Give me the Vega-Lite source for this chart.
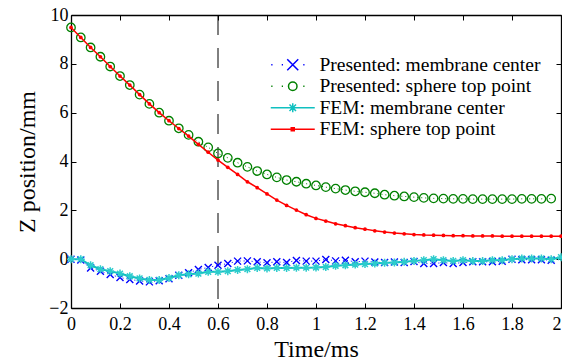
{
  "$schema": "https://vega.github.io/schema/vega-lite/v6.json",
  "width": 490,
  "height": 293,
  "autosize": {"type": "none"},
  "padding": {"left": 71, "top": 15, "right": 1, "bottom": 56},
  "background": "white",
  "config": {
    "view": {"stroke": null},
    "axis": {
      "grid": false,
      "domainColor": "black",
      "domainWidth": 1.3,
      "tickColor": "black",
      "tickWidth": 1,
      "tickSize": -5,
      "labelFont": "Liberation Serif, Times New Roman, serif",
      "labelFontSize": 18,
      "labelColor": "black",
      "labelFlush": false,
      "titleFont": "Liberation Serif, Times New Roman, serif",
      "titleFontSize": 24,
      "titleFontWeight": "normal",
      "titleColor": "black"
    },
    "legend": {
      "labelFont": "Liberation Serif, Times New Roman, serif",
      "labelFontSize": 19.5,
      "labelColor": "black",
      "labelLimit": 400,
      "symbolSize": 100,
      "symbolStrokeWidth": 1.5,
      "symbolOffset": 0,
      "labelOffset": 17,
      "padding": 0,
      "rowPadding": 0.5
    }
  },
  "datasets": {
    "marker": [{"t": 0.6}],
    "ps": [
      {"t":0,"z":9.49},{"t":0.04,"z":9.08},{"t":0.08,"z":8.67},{"t":0.12,"z":8.29},{"t":0.16,"z":7.89},{"t":0.2,"z":7.5},{"t":0.24,"z":7.13},{"t":0.28,"z":6.74},{"t":0.32,"z":6.36},{"t":0.36,"z":6.0},{"t":0.4,"z":5.67},{"t":0.44,"z":5.36},{"t":0.48,"z":5.09},{"t":0.52,"z":4.81},{"t":0.56,"z":4.58},{"t":0.6,"z":4.33},{"t":0.64,"z":4.15},{"t":0.68,"z":3.95},{"t":0.72,"z":3.78},{"t":0.76,"z":3.61},{"t":0.8,"z":3.47},{"t":0.84,"z":3.35},{"t":0.88,"z":3.24},{"t":0.92,"z":3.17},{"t":0.96,"z":3.09},{"t":1.0,"z":3.02},{"t":1.04,"z":2.95},{"t":1.08,"z":2.89},{"t":1.12,"z":2.83},{"t":1.16,"z":2.78},{"t":1.2,"z":2.74},{"t":1.24,"z":2.7},{"t":1.28,"z":2.64},{"t":1.32,"z":2.6},{"t":1.36,"z":2.57},{"t":1.4,"z":2.54},{"t":1.44,"z":2.51},{"t":1.48,"z":2.49},{"t":1.52,"z":2.48},{"t":1.56,"z":2.47},{"t":1.6,"z":2.47},{"t":1.64,"z":2.46},{"t":1.68,"z":2.46},{"t":1.72,"z":2.46},{"t":1.76,"z":2.46},{"t":1.8,"z":2.46},{"t":1.84,"z":2.47},{"t":1.88,"z":2.47},{"t":1.92,"z":2.47},{"t":1.96,"z":2.48}
    ],
    "fs": [
      {"t":0,"z":9.49},{"t":0.04,"z":9.08},{"t":0.08,"z":8.67},{"t":0.12,"z":8.29},{"t":0.16,"z":7.89},{"t":0.2,"z":7.5},{"t":0.24,"z":7.13},{"t":0.28,"z":6.74},{"t":0.32,"z":6.36},{"t":0.36,"z":6.0},{"t":0.4,"z":5.67},{"t":0.44,"z":5.35},{"t":0.48,"z":5.04},{"t":0.52,"z":4.7},{"t":0.56,"z":4.38},{"t":0.6,"z":4.06},{"t":0.64,"z":3.76},{"t":0.68,"z":3.47},{"t":0.72,"z":3.17},{"t":0.76,"z":2.93},{"t":0.8,"z":2.67},{"t":0.84,"z":2.42},{"t":0.88,"z":2.2},{"t":0.92,"z":2.01},{"t":0.96,"z":1.82},{"t":1.0,"z":1.67},{"t":1.04,"z":1.56},{"t":1.08,"z":1.45},{"t":1.12,"z":1.37},{"t":1.16,"z":1.29},{"t":1.2,"z":1.23},{"t":1.24,"z":1.16},{"t":1.28,"z":1.11},{"t":1.32,"z":1.07},{"t":1.36,"z":1.04},{"t":1.4,"z":1.01},{"t":1.44,"z":0.99},{"t":1.48,"z":0.98},{"t":1.52,"z":0.97},{"t":1.56,"z":0.96},{"t":1.6,"z":0.96},{"t":1.64,"z":0.95},{"t":1.68,"z":0.95},{"t":1.72,"z":0.95},{"t":1.76,"z":0.94},{"t":1.8,"z":0.94},{"t":1.84,"z":0.94},{"t":1.88,"z":0.94},{"t":1.92,"z":0.94},{"t":1.96,"z":0.94},{"t":2.0,"z":0.94}
    ],
    "pm": [
      {"t":0,"z":0.0},{"t":0.04,"z":-0.03},{"t":0.08,"z":-0.36},{"t":0.12,"z":-0.49},{"t":0.16,"z":-0.63},{"t":0.2,"z":-0.75},{"t":0.24,"z":-0.83},{"t":0.28,"z":-0.89},{"t":0.32,"z":-0.93},{"t":0.36,"z":-0.88},{"t":0.4,"z":-0.8},{"t":0.44,"z":-0.66},{"t":0.48,"z":-0.56},{"t":0.52,"z":-0.42},{"t":0.56,"z":-0.34},{"t":0.6,"z":-0.25},{"t":0.64,"z":-0.18},{"t":0.68,"z":-0.08},{"t":0.72,"z":-0.07},{"t":0.76,"z":-0.11},{"t":0.8,"z":-0.15},{"t":0.84,"z":-0.11},{"t":0.88,"z":-0.14},{"t":0.92,"z":-0.05},{"t":0.96,"z":-0.08},{"t":1.0,"z":-0.08},{"t":1.04,"z":-0.01},{"t":1.08,"z":-0.07},{"t":1.12,"z":-0.04},{"t":1.16,"z":-0.11},{"t":1.2,"z":-0.08},{"t":1.24,"z":-0.12},{"t":1.28,"z":-0.14},{"t":1.32,"z":-0.12},{"t":1.36,"z":-0.14},{"t":1.4,"z":-0.1},{"t":1.44,"z":-0.18},{"t":1.48,"z":-0.18},{"t":1.52,"z":-0.14},{"t":1.56,"z":-0.18},{"t":1.6,"z":-0.14},{"t":1.64,"z":-0.11},{"t":1.68,"z":-0.11},{"t":1.72,"z":-0.11},{"t":1.76,"z":-0.09},{"t":1.8,"z":0.0},{"t":1.84,"z":-0.02},{"t":1.88,"z":-0.02},{"t":1.92,"z":-0.02},{"t":1.96,"z":-0.04}
    ],
    "fm": [
      {"t":0,"z":0.0},{"t":0.04,"z":0.0},{"t":0.08,"z":-0.25},{"t":0.12,"z":-0.41},{"t":0.16,"z":-0.49},{"t":0.2,"z":-0.59},{"t":0.24,"z":-0.7},{"t":0.28,"z":-0.79},{"t":0.32,"z":-0.85},{"t":0.36,"z":-0.85},{"t":0.4,"z":-0.77},{"t":0.44,"z":-0.66},{"t":0.48,"z":-0.62},{"t":0.52,"z":-0.59},{"t":0.56,"z":-0.52},{"t":0.6,"z":-0.52},{"t":0.64,"z":-0.49},{"t":0.68,"z":-0.44},{"t":0.72,"z":-0.41},{"t":0.76,"z":-0.36},{"t":0.8,"z":-0.38},{"t":0.84,"z":-0.36},{"t":0.88,"z":-0.36},{"t":0.92,"z":-0.35},{"t":0.96,"z":-0.35},{"t":1.0,"z":-0.34},{"t":1.04,"z":-0.32},{"t":1.08,"z":-0.27},{"t":1.12,"z":-0.25},{"t":1.16,"z":-0.22},{"t":1.2,"z":-0.2},{"t":1.24,"z":-0.18},{"t":1.28,"z":-0.15},{"t":1.32,"z":-0.14},{"t":1.36,"z":-0.11},{"t":1.4,"z":-0.07},{"t":1.44,"z":-0.04},{"t":1.48,"z":0.0},{"t":1.52,"z":-0.04},{"t":1.56,"z":-0.07},{"t":1.6,"z":-0.04},{"t":1.64,"z":-0.08},{"t":1.68,"z":-0.08},{"t":1.72,"z":-0.04},{"t":1.76,"z":-0.04},{"t":1.8,"z":0.0},{"t":1.84,"z":0.03},{"t":1.88,"z":0.03},{"t":1.92,"z":0.03},{"t":1.96,"z":0.0},{"t":2.0,"z":0.08}
    ],
    "leg": [
      {"t": -1, "z": 0, "series": "Presented: membrane center"},
      {"t": -1, "z": 0, "series": "Presented: sphere top point"},
      {"t": -1, "z": 0, "series": "FEM: membrane center"},
      {"t": -1, "z": 0, "series": "FEM: sphere top point"}
    ]
  },
  "resolve": {"axis": {"x": "independent", "y": "independent"}},
  "layer": [
    {
      "data": {"name": "marker"},
      "mark": {"type": "rule", "color": "black", "strokeWidth": 1, "strokeDash": [20, 13]},
      "encoding": {
        "x": {"field": "t", "type": "quantitative", "scale": {"domain": [0, 2], "nice": false, "zero": false},
          "axis": {"orient": "bottom", "values": [0,0.2,0.4,0.6,0.8,1,1.2,1.4,1.6,1.8,2], "format": "~g", "title": "Time/ms", "labelPadding": 12, "titlePadding": 4,
            "labelAlign": {"condition": {"test": "datum.value >= 2", "value": "right"}, "value": "center"}}}
      }
    },
    {
      "data": {"name": "marker"},
      "mark": {"type": "rule", "opacity": 0},
      "encoding": {
        "x": {"field": "t", "type": "quantitative",
          "axis": {"orient": "top", "values": [0,0.2,0.4,0.6,0.8,1,1.2,1.4,1.6,1.8,2], "labels": false, "title": null}},
        "y": {"datum": 0, "type": "quantitative", "scale": {"domain": [-2, 10], "nice": false, "zero": false},
          "axis": {"orient": "left", "values": [-2,0,2,4,6,8,10], "format": "d", "title": "Z position/mm", "labelPadding": 8, "titlePadding": 9}}
      }
    },
    {
      "data": {"name": "marker"},
      "mark": {"type": "rule", "opacity": 0},
      "encoding": {
        "x": {"field": "t", "type": "quantitative", "axis": null},
        "y": {"datum": 0, "type": "quantitative",
          "axis": {"orient": "right", "values": [-2,0,2,4,6,8,10], "labels": false, "title": null}}
      }
    },
    {
      "data": {"name": "ps"},
      "mark": {"type": "line", "color": "#008000", "strokeWidth": 1, "strokeDash": [1, 3]},
      "encoding": {"x": {"field": "t", "type": "quantitative", "axis": null}, "y": {"field": "z", "type": "quantitative", "axis": null}}
    },
    {
      "data": {"name": "ps"},
      "mark": {"type": "point", "shape": "circle", "filled": false, "color": "#008000", "size": 72, "strokeWidth": 1.3, "opacity": 1},
      "encoding": {"x": {"field": "t", "type": "quantitative", "axis": null}, "y": {"field": "z", "type": "quantitative", "axis": null}}
    },
    {
      "data": {"name": "pm"},
      "mark": {"type": "line", "color": "#0000FF", "strokeWidth": 1, "strokeDash": [1, 3]},
      "encoding": {"x": {"field": "t", "type": "quantitative", "axis": null}, "y": {"field": "z", "type": "quantitative", "axis": null}}
    },
    {
      "data": {"name": "pm"},
      "mark": {"type": "point", "shape": "M-1,-1L1,1M-1,1L1,-1", "filled": false, "color": "#0000FF", "size": 49, "strokeWidth": 1.4, "opacity": 1},
      "encoding": {"x": {"field": "t", "type": "quantitative", "axis": null}, "y": {"field": "z", "type": "quantitative", "axis": null}}
    },
    {
      "data": {"name": "fm"},
      "mark": {"type": "line", "color": "#10C0C0", "strokeWidth": 2},
      "encoding": {"x": {"field": "t", "type": "quantitative", "axis": null}, "y": {"field": "z", "type": "quantitative", "axis": null}}
    },
    {
      "data": {"name": "fm"},
      "mark": {"type": "point", "shape": "M-1,0H1M0,-1V1M-0.72,-0.72L0.72,0.72M-0.72,0.72L0.72,-0.72", "filled": false, "color": "#2CCCCC", "size": 64, "strokeWidth": 1.5, "opacity": 1},
      "encoding": {"x": {"field": "t", "type": "quantitative", "axis": null}, "y": {"field": "z", "type": "quantitative", "axis": null}}
    },
    {
      "data": {"name": "fs"},
      "mark": {"type": "line", "color": "#FF0000", "strokeWidth": 1.5},
      "encoding": {"x": {"field": "t", "type": "quantitative", "axis": null}, "y": {"field": "z", "type": "quantitative", "axis": null}}
    },
    {
      "data": {"name": "fs"},
      "mark": {"type": "point", "shape": "circle", "filled": true, "color": "#FF0000", "size": 14, "opacity": 1},
      "encoding": {"x": {"field": "t", "type": "quantitative", "axis": null}, "y": {"field": "z", "type": "quantitative", "axis": null}}
    },
    {
      "data": {"name": "leg"},
      "mark": {"type": "point", "filled": false, "clip": true, "strokeWidth": 1.5, "opacity": 1},
      "encoding": {
        "x": {"field": "t", "type": "quantitative", "axis": null},
        "y": {"field": "z", "type": "quantitative", "axis": null},
        "color": {"field": "series", "type": "nominal",
          "scale": {"domain": ["Presented: membrane center", "Presented: sphere top point", "FEM: membrane center", "FEM: sphere top point"],
                    "range": ["#0000FF", "#008000", "#10C0C0", "#FF0000"]},
          "legend": {"title": null, "orient": "none", "legendX": 212, "legendY": 40, "symbolOpacity": 1}},
        "shape": {"field": "series", "type": "nominal",
          "scale": {"domain": ["Presented: membrane center", "Presented: sphere top point", "FEM: membrane center", "FEM: sphere top point"],
                    "range": [
                      "M-4.3,0h0.25M-2.2,0h0.25M2.1,0h0.25M-1.1,-1.1L1.1,1.1M-1.1,1.1L1.1,-1.1",
                      "M-4.3,0h0.25M-2.2,0h0.25M2.1,0h0.25M-0.85,0a0.85,0.85 0 1,0 1.7,0a0.85,0.85 0 1,0 -1.7,0",
                      "M-4.4,0H4.4M-0.9,0H0.9M0,-0.9V0.9M-0.65,-0.65L0.65,0.65M-0.65,0.65L0.65,-0.65",
                      "M-4.4,0H4.4M-0.3,-0.3h0.6v0.6h-0.6z"
                    ]},
          "legend": {"title": null, "orient": "none", "legendX": 212, "legendY": 40, "symbolOpacity": 1}}
      }
    }
  ]
}
